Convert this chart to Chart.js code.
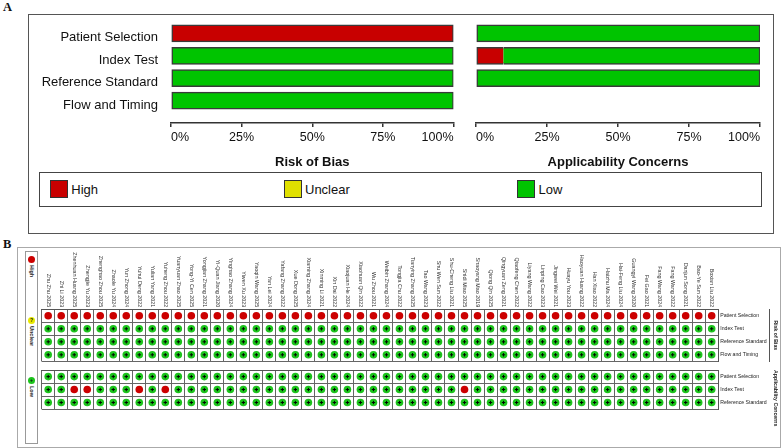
<!DOCTYPE html>
<html>
<head>
<meta charset="utf-8">
<script src="https://cdn.jsdelivr.net/npm/chart.js@4.4.1/dist/chart.umd.min.js"></script>
<style>
  body { margin: 0; width: 782px; height: 448px; position: relative; overflow: hidden; background: #fff;
         font-family: Arial, "Liberation Sans", sans-serif; color: #111; }
  .abs { position: absolute; }
  .tag { font-family: "Times New Roman", "Liberation Serif", serif; font-weight: bold; font-size: 12.5px; line-height: 12.5px; }
  #boxA { left: 28px; top: 14px; width: 744px; height: 218px; border: 1.5px solid #555; }
  #legendA { left: 39px; top: 172px; width: 721px; height: 33px; border: 1.5px solid #444; }
  #legendA .sw { position: absolute; top: 7px; width: 16px; height: 16px; border: 1.2px solid #333; }
  #legendA .lt { position: absolute; top: 9px; font-size: 13px; line-height: 15px; }
  #boxB { left: 17px; top: 247px; width: 762px; height: 199px; border: 1px solid #aaa; }
  #legendB { left: 25px; top: 251px; width: 11px; height: 191px; border: 1px solid #999; }
  #legendB .dot { position: absolute; width: 7px; height: 7px; border-radius: 50%; left: 2px;
                  font-size: 5px; line-height: 7px; text-align: center; font-weight: bold; }
  #legendB .vt { position: absolute; left: 3px; writing-mode: vertical-rl; font-size: 5.5px; font-weight: bold; color: #222; }
  canvas { position: absolute; }
</style>
</head>
<body>
<div class="abs tag" style="left:3px;top:1px">A</div>
<div id="boxA" class="abs"></div>
<canvas id="robBars" width="440" height="170" style="left:28px;top:0px"></canvas>
<canvas id="acBars" width="300" height="170" style="left:468px;top:0px"></canvas>
<div id="legendA" class="abs"></div>

<div class="abs tag" style="left:3px;top:238px">B</div>
<div id="boxB" class="abs"></div>
<div id="legendB" class="abs"></div>
<canvas id="robGrid" width="763" height="120" style="left:17px;top:247px"></canvas>
<canvas id="acGrid" width="763" height="80" style="left:17px;top:365px"></canvas>

<script>
const studies = [
  'Zhu Zhu 2025', 'Zhi Li 2023', 'Zhenhuan Huang 2025', 'Zhengjie Yu 2023', 'Zhenghao Zhou 2025',
  'Zhaole Yu 2024', 'Yun Zhong 2024', 'Yuhui Deng 2022', 'Yulian Yang 2021', 'Yuheng Zhou 2022',
  'Yuanyuan Zhao 2025', 'Yong-Yi Cen 2025', 'Yongjian Zhang 2021', 'Yi-Quan Jiang 2020', 'Yinghao Zhang 2024',
  'Yiwen Xu 2023', 'Yaoqin Wang 2025', 'Yan Lei 2024', 'Yafang Zhang 2022', 'Xue Dong 2025',
  'Xiaming Zhang 2024', 'Xinming Li 2021', 'Xin Dai 2022', 'Xiaojuan He 2024', 'Xiaohuan Qin 2022',
  'Wu Zhou 2021', 'Weibin Zhang 2024', 'Tongjia Chu 2022', 'Tianying Zhang 2025', 'Tao Wang 2023',
  'Shu Wen Sun 2022', 'Shu-Cheng Liu 2021', 'Shidi Miao 2025', 'Shaoyang Mao 2019', 'Qiong Qin 2025',
  'Qingyuan Zeng 2021', 'Qiaofeng Chen 2022', 'Liyang Wang 2022', 'Linping Cao 2023', 'Jingwei Wei 2021',
  'Huayu You 2023', 'Haoyuan Huang 2022', 'Han Xiao 2022', 'Haizhu Ma 2024', 'Hai-Feng Liu 2024',
  'Guangyi Wang 2020', 'Fei Gao 2021', 'Fang Wang 2024', 'Fang Wang 2022', 'Danjun Song 2021',
  'Bao-Ye Sun 2022', 'Boxian Liu 2022'
];
const robDomains = ['Patient Selection', 'Index Test', 'Reference Standard', 'Flow and Timing'];
const acDomains = ['Patient Selection', 'Index Test', 'Reference Standard'];
const judgementCodes = ['H', 'U', 'L'];
const judgementNames = ['High', 'Unclear', 'Low'];

// one letter per study, in the order of `studies` (H high, U unclear, L low), grouped by ten
const robJudgements = [
  'HHHHHHHHHH HHHHHHHHHH HHHHHHHHHH HHHHHHHHHH HHHHHHHHHH HH',
  'LLLLLLLLLL LLLLLLLLLL LLLLLLLLLL LLLLLLLLLL LLLLLLLLLL LL',
  'LLLLLLLLLL LLLLLLLLLL LLLLLLLLLL LLLLLLLLLL LLLLLLLLLL LL',
  'LLLLLLLLLL LLLLLLLLLL LLLLLLLLLL LLLLLLLLLL LLLLLLLLLL LL'
].map(s => s.replace(/ /g, ''));
const acJudgements = [
  'LLLLLLLLLL LLLLLLLLLL LLLLLLLLLL LLLLLLLLLL LLLLLLLLLL LL',
  'LLHHLLLHLH LLLLLLLLLL LLLLLLLLLL LLHLLLLLLL LLLLLLLLLL LL',
  'LLLLLLLLLL LLLLLLLLLL LLLLLLLLLL LLLLLLLLLL LLLLLLLLLL LL'
].map(s => s.replace(/ /g, ''));

const percentTicks = [0, 25, 50, 75, 100];

// colours
const barColours = { H: '#c80000', U: '#e0e000', L: '#00c400' };
const dotColours = { H: '#cc0000', U: '#e8e800', L: '#1cc41c' };
const FONT = 'Arial, "Liberation Sans", sans-serif';
Chart.defaults.font.family = FONT;
Chart.defaults.color = '#111';

// ---------- panel A: summary bars ----------
const barRows = ['', ...robDomains, '']; // blank rows keep the bars away from the axis line

function share(str, code) {
  if (!str) return null;
  const n = str.split('').filter(c => c === code).length;
  return n ? n / str.length * 100 : null;
}

function segBorder(ctx) {
  const ds = ctx.chart.data.datasets, i = ctx.dataIndex, d = ctx.datasetIndex;
  let before = 0, after = 0;
  ds.forEach((s, k) => { const v = s.data[i] || 0; if (k < d) before += v; if (k > d) after += v; });
  return { top: 1.5, bottom: 1.5, left: before ? 0 : 1.5, right: after ? 0 : 1.5 };
}

function barChart(id, judgements, title, showRows, pad) {
  const rows = barRows.map((r, i) => judgements[i - 1]);
  return new Chart(document.getElementById(id), {
    type: 'bar',
    data: {
      labels: barRows,
      datasets: judgementCodes.map((code, k) => ({
        label: judgementNames[k],
        data: rows.map(r => share(r, code)),
        backgroundColor: barColours[code],
        borderColor: '#3a3a3a',
        borderWidth: segBorder,
        borderSkipped: false,
        barThickness: 17
      }))
    },
    options: {
      indexAxis: 'y', responsive: false, animation: false, events: [],
      layout: { padding: pad },
      plugins: { legend: { display: false }, tooltip: { enabled: false } },
      scales: {
        x: {
          stacked: true, min: 0, max: 100,
          afterBuildTicks: s => { s.ticks = percentTicks.map(v => ({ value: v })); },
          ticks: { callback: v => v + '%', align: 'inner', padding: 3, color: '#111', font: { size: 12.5 }, maxRotation: 0 },
          grid: { drawOnChartArea: false, tickLength: 4, color: '#333', lineWidth: 1.5 },
          border: { color: '#333', width: 1.5 },
          title: { display: true, text: title, color: '#111', font: { size: 13, weight: 'bold' }, padding: { top: 6.4, bottom: 0 } }
        },
        y: {
          stacked: true, offset: false, display: showRows,
          grid: { display: false, drawTicks: false }, border: { display: false },
          ticks: { padding: 13, labelOffset: 4.5, color: '#111', font: { size: 13 }, autoSkip: false },
          afterFit: s => {
            s.paddingTop = 0; s.paddingBottom = 0;
            if (showRows) s.width = 143;
          }
        }
      }
    }
  });
}

barChart('robBars', robJudgements, 'Risk of Bias', true, { left: 0, top: 11, right: 14.5, bottom: 0 });
barChart('acBars', acJudgements, 'Applicability Concerns', false, { left: 8, top: 11, right: 8, bottom: 0 });

// legend box under panel A
const legendA = document.getElementById('legendA');
const legendAX = [9.8, 243.5, 477];
judgementCodes.forEach((code, k) => {
  const sw = document.createElement('div');
  sw.className = 'sw'; sw.style.left = legendAX[k] + 'px'; sw.style.background = barColours[code];
  const t = document.createElement('div');
  t.className = 'lt'; t.style.left = (legendAX[k] + 21.5) + 'px'; t.textContent = judgementNames[k];
  legendA.append(sw, t);
});

// ---------- panel B: study-level grid ----------
const studyNames = {
  id: 'studyNames',
  afterDraw(chart, args, opts) {
    if (!opts.show) return;
    const xs = chart.scales.x, ctx = chart.ctx, top = chart.chartArea.top - 2;
    ctx.save();
    ctx.font = '5.4px ' + FONT;
    ctx.fillStyle = '#333'; ctx.textAlign = 'right'; ctx.textBaseline = 'middle';
    xs.getLabels().forEach((name, i) => {
      ctx.save();
      ctx.translate(xs.getPixelForTick(i), top);
      ctx.rotate(Math.PI / 2);
      ctx.fillText(name, 0, 0);
      ctx.restore();
    });
    ctx.restore();
  }
};

function gridChart(id, domains, judgements, groupTitle, opts) {
  const cells = [];
  domains.forEach((d, r) => studies.forEach((s, c) => cells.push({ x: s, y: d, j: judgements[r][c] })));
  return new Chart(document.getElementById(id), {
    type: 'scatter',
    data: {
      datasets: [
        { // + marks on the low-risk dots
          data: cells.filter(p => p.j === 'L'),
          pointStyle: 'cross', pointRadius: 1.7, pointBorderColor: '#000', pointBorderWidth: 1
        },
        {
          data: cells,
          pointRadius: 3.8, pointBorderWidth: 0,
          pointBackgroundColor: c => c.raw ? dotColours[c.raw.j] : '#000'
        }
      ]
    },
    options: {
      responsive: false, animation: false, events: [],
      layout: { padding: opts.pad },
      plugins: { legend: { display: false }, tooltip: { enabled: false }, studyNames: { show: opts.names } },
      scales: {
        x: {
          type: 'category', labels: studies, position: 'top', offset: true,
          ticks: { display: false },
          grid: { offset: true, color: '#666', lineWidth: 1, drawTicks: false },
          border: { color: '#555' }
        },
        y: {
          type: 'category', labels: domains, position: 'right', offset: true,
          ticks: { padding: 2, color: '#222', font: { size: 5.2 } },
          grid: { offset: true, color: '#666', lineWidth: 1, drawTicks: false },
          border: { color: '#555' },
          afterFit: s => { s.width = 51.5; }
        },
        y2: {
          type: 'category', labels: domains, position: 'right',
          ticks: { display: false },
          grid: { display: false, drawOnChartArea: false, drawTicks: false },
          border: { display: opts.bracket, color: '#555' },
          title: { display: true, text: groupTitle, color: '#222', align: opts.titleAlign,
                   font: { size: 5.2, weight: 'bold' }, padding: { top: 1.5, bottom: 0 } },
          afterFit: s => { s.width = 10.3; }
        }
      }
    },
    plugins: [studyNames]
  });
}

gridChart('robGrid', robDomains, robJudgements, 'Risk of Bias',
  { pad: { left: 24.7, top: 62.3, bottom: 5.7, right: 0 }, names: true, bracket: true, titleAlign: 'center' });
gridChart('acGrid', acDomains, acJudgements, 'Applicability Concerns',
  { pad: { left: 24.7, top: 5, bottom: 36, right: 0 }, names: false, bracket: false, titleAlign: 'end' });

// vertical key on the left of panel B
const legendB = document.getElementById('legendB');
const legendBY = [4, 65, 125];
const legendBMarks = { H: '', U: '?', L: '+' };
judgementCodes.forEach((code, k) => {
  const dot = document.createElement('div');
  dot.className = 'dot'; dot.style.top = legendBY[k] + 'px'; dot.style.background = dotColours[code];
  dot.textContent = legendBMarks[code];
  const t = document.createElement('div');
  t.className = 'vt'; t.style.top = (legendBY[k] + 9) + 'px'; t.textContent = judgementNames[k];
  legendB.append(dot, t);
});
</script>
</body>
</html>
